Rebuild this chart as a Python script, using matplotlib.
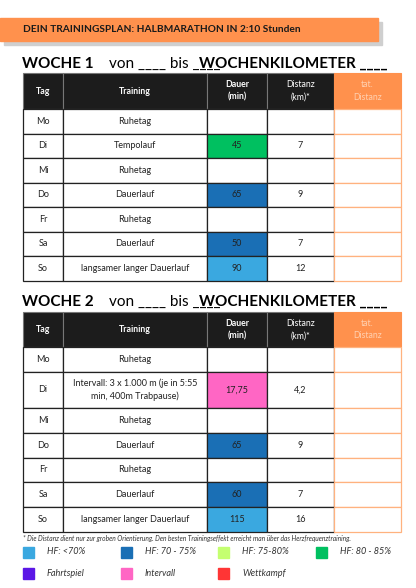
import matplotlib
matplotlib.use("Agg")
import matplotlib.pyplot as plt
from matplotlib.patches import Rectangle

plt.rcParams['font.family'] = ['Lato', 'DejaVu Sans']

days = ["Mo", "Di", "Mi", "Do", "Fr", "Sa", "So"]
w1_training = ["Ruhetag", "Tempolauf", "Ruhetag", "Dauerlauf", "Ruhetag", "Dauerlauf", "langsamer langer Dauerlauf"]
w1_dauer = ["", "45", "", "65", "", "50", "90"]
w1_dist = ["", "7", "", "9", "", "7", "12"]
w1_zone = [None, "g", None, "db", None, "db", "lb"]
w2_training = ["Ruhetag", "Intervall: 3 x 1.000 m (je in 5:55\nmin, 400m Trabpause)", "Ruhetag", "Dauerlauf", "Ruhetag", "Dauerlauf", "langsamer langer Dauerlauf"]
w2_dauer = ["", "17,75", "", "65", "", "60", "115"]
w2_dist = ["", "4,2", "", "9", "", "7", "16"]
w2_zone = [None, "p", None, "db", None, "db", "lb"]
legend_keys = ["lb", "db", "lime", "g", "pu", "p", "r"]
legend_labels = ["HF: <70%", "HF: 70 - 75%", "HF: 75-80%", "HF: 80 - 85%", "Fahrtspiel", "Intervall", "Wettkampf"]

colors = {"lb": "#3aa8e0", "db": "#1a6fb5", "lime": "#c4ff70", "g": "#00c060",
          "pu": "#5b17e6", "p": "#ff66c4", "r": "#ff3535"}
ORANGE = "#ff914d"

fig = plt.figure(figsize=(4.16, 5.88), dpi=100)
ax = fig.add_axes([0, 0, 1, 1])
ax.set_xlim(0, 416); ax.set_ylim(588, 0); ax.axis("off")

# banner
ax.add_patch(Rectangle((4, 22), 378, 23, color="#cfcfcf", zorder=1))
ax.add_patch(Rectangle((0, 18), 378, 23, color=ORANGE, zorder=2))
ax.text(23, 29.5, "DEIN TRAININGSPLAN: HALBMARATHON IN 2:10 Stunden", fontsize=7.3,
        fontweight="bold", va="center", color="#1a1a1a", zorder=3)

xs = [23, 63, 207, 267, 334, 401]

def title(y, n):
    ax.text(22, y, f"WOCHE {n}", fontsize=11, fontweight="bold", va="center")
    ax.text(109, y, "von ____ bis ____", fontsize=11, va="center")
    ax.text(199, y, "WOCHENKILOMETER ____", fontsize=11, fontweight="bold", va="center")

def table(ytop, hh, rows, training, dauer, dist, zone):
    yb = ytop + hh
    for i in range(4):
        ax.add_patch(Rectangle((xs[i], ytop), xs[i+1]-xs[i], hh, facecolor="#1c1c1c",
                               edgecolor="#777777", lw=0.8))
    ax.add_patch(Rectangle((xs[4], ytop), xs[5]-xs[4], hh, facecolor=ORANGE, edgecolor=ORANGE, lw=0.8))
    cy = ytop + hh/2
    ax.text((xs[0]+xs[1])/2, cy, "Tag", color="white", fontsize=6.3, fontweight="bold", ha="center", va="center")
    ax.text((xs[1]+xs[2])/2, cy, "Training", color="white", fontsize=6.3, fontweight="bold", ha="center", va="center")
    ax.text((xs[2]+xs[3])/2, cy, "Dauer\n(min)", color="white", fontsize=6.3, fontweight="bold", ha="center", va="center", linespacing=1.5)
    ax.text((xs[3]+xs[4])/2, cy, "Distanz\n(km)*", color="white", fontsize=6.3, ha="center", va="center", linespacing=1.5)
    ax.text((xs[4]+xs[5])/2, cy, "tat.\nDistanz", color="#ffd0b0", fontsize=6.3, ha="center", va="center", linespacing=1.5)
    y = yb
    for k, h in enumerate(rows):
        for i in range(4):
            fc = "white"
            if i == 2 and zone[k]:
                fc = colors[zone[k]]
            ax.add_patch(Rectangle((xs[i], y), xs[i+1]-xs[i], h, facecolor=fc, edgecolor="#222222", lw=0.9))
        ax.add_patch(Rectangle((xs[4], y), xs[5]-xs[4], h, facecolor="white", edgecolor="#ffb27f", lw=0.9))
        c = y + h/2
        ax.text((xs[0]+xs[1])/2, c, days[k], fontsize=6.5, ha="center", va="center", color="#222222")
        ax.text((xs[1]+xs[2])/2, c, training[k], fontsize=6.5, ha="center", va="center", color="#222222", linespacing=1.5)
        ax.text((xs[2]+xs[3])/2, c, dauer[k], fontsize=6.5, ha="center", va="center", color="#222222")
        ax.text((xs[3]+xs[4])/2, c, dist[k], fontsize=6.5, ha="center", va="center", color="#222222")
        y += h

title(64, 1)
table(73, 36, [24.5]*7, w1_training, w1_dauer, w1_dist, w1_zone)
title(302, 2)
table(312, 35, [25, 36, 25, 25, 24, 25, 25], w2_training, w2_dauer, w2_dist, w2_zone)

ax.text(23, 538, "* Die Distanz dient nur zur groben Orientierung. Den besten Trainingseffekt erreicht man über das Herzfrequenztraining.",
        fontsize=4.8, style="italic", va="center", color="#333333")

lx = [23, 121, 218, 316]
for i, (k, lab) in enumerate(zip(legend_keys, legend_labels)):
    r, cidx = divmod(i, 4)
    yy = 552 + r*21
    ax.add_patch(Rectangle((lx[cidx], yy-5.5), 11, 11, color=colors[k]))
    ax.text(lx[cidx] + 24, yy, lab, fontsize=6.6, style="italic", va="center", color="#333333")

fig.savefig("out.png", dpi=100)
